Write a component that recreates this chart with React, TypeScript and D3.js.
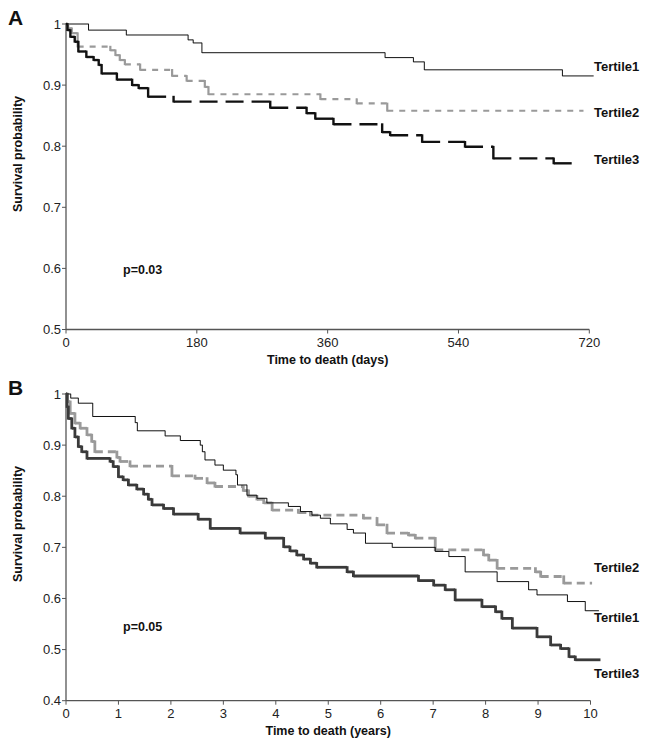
import React from "react";
import * as d3 from "d3";

// ---------- Panel A (days) ----------
const A_TICKS_X = [0, 180, 360, 540, 720];
const A_TICKS_Y = [0.5, 0.6, 0.7, 0.8, 0.9, 1];
const A_T1_TIME = [31, 83, 168, 175, 187, 439, 478, 493, 683];
const A_T1_SURV = [0.99, 0.982, 0.974, 0.969, 0.953, 0.945, 0.938, 0.925, 0.915];
const A_T1_END = 726;
const A_T2_TIME = [3, 8, 16, 61, 68, 74, 81, 102, 146, 166, 191, 196, 350, 400, 442];
const A_T2_SURV = [0.993, 0.985, 0.963, 0.957, 0.949, 0.941, 0.934, 0.925, 0.915, 0.907, 0.897, 0.885, 0.877, 0.87, 0.858];
const A_T2_END = 712;
const A_T3_TIME = [2, 6, 12, 17, 28, 38, 45, 49, 70, 91, 100, 113, 148, 281, 331, 343, 368, 435, 446, 490, 549, 588, 671];
const A_T3_SURV = [0.99, 0.979, 0.971, 0.955, 0.946, 0.941, 0.933, 0.919, 0.909, 0.9, 0.895, 0.881, 0.873, 0.863, 0.854, 0.845, 0.836, 0.823, 0.818, 0.807, 0.799, 0.78, 0.772];
const A_T3_END = 705;

// ---------- Panel B (years) ----------
const B_TICKS_X = [0, 1, 2, 3, 4, 5, 6, 7, 8, 9, 10];
const B_TICKS_Y = [0.4, 0.5, 0.6, 0.7, 0.8, 0.9, 1];
const B_T1_TIME = [0.09, 0.235, 0.51, 1.32, 1.36, 1.89, 2.18, 2.56, 2.6, 2.65, 2.84, 3.0, 3.24, 3.27, 3.45, 3.64, 3.83, 4.24, 4.47, 4.69, 4.85, 5.04, 5.36, 5.48, 5.71, 6.22, 7.04, 7.3, 7.61, 8.22, 8.82, 8.98, 9.56, 9.9];
const B_T1_SURV = [0.992, 0.982, 0.956, 0.944, 0.928, 0.918, 0.909, 0.9, 0.887, 0.871, 0.861, 0.851, 0.842, 0.822, 0.802, 0.796, 0.787, 0.78, 0.77, 0.763, 0.757, 0.746, 0.735, 0.728, 0.708, 0.7, 0.692, 0.682, 0.652, 0.633, 0.617, 0.607, 0.594, 0.576];
const B_T1_END = 10.16;
const B_T2_TIME = [0.03, 0.08, 0.17, 0.27, 0.4, 0.49, 0.55, 0.97, 1.03, 1.22, 2.02, 2.46, 2.69, 2.84, 3.38, 3.48, 3.64, 3.77, 3.93, 4.43, 4.66, 5.67, 5.93, 6.12, 6.53, 6.66, 7.04, 7.96, 8.06, 8.22, 8.95, 9.05, 9.49];
const B_T2_SURV = [0.985, 0.962, 0.943, 0.933, 0.92, 0.907, 0.887, 0.876, 0.868, 0.859, 0.84, 0.835, 0.826, 0.819, 0.811, 0.8, 0.794, 0.787, 0.773, 0.768, 0.763, 0.757, 0.744, 0.728, 0.724, 0.718, 0.695, 0.685, 0.675, 0.659, 0.652, 0.643, 0.63];
const B_T2_END = 10.03;
const B_T3_TIME = [0.02, 0.044, 0.11, 0.17, 0.235, 0.3, 0.4, 0.84, 0.9, 1.0, 1.09, 1.19, 1.35, 1.48, 1.57, 1.64, 1.86, 2.05, 2.52, 2.75, 3.32, 3.8, 4.15, 4.27, 4.4, 4.53, 4.66, 4.78, 5.36, 5.48, 6.72, 7.01, 7.23, 7.42, 7.93, 8.19, 8.31, 8.51, 8.98, 9.24, 9.43, 9.59, 9.71];
const B_T3_SURV = [0.975, 0.952, 0.933, 0.916, 0.897, 0.887, 0.874, 0.868, 0.858, 0.838, 0.832, 0.822, 0.814, 0.804, 0.794, 0.783, 0.776, 0.765, 0.755, 0.737, 0.728, 0.718, 0.701, 0.693, 0.685, 0.677, 0.669, 0.661, 0.652, 0.644, 0.635, 0.626, 0.617, 0.597, 0.584, 0.574, 0.561, 0.542, 0.525, 0.509, 0.502, 0.486, 0.48];
const B_T3_END = 10.19;

const FONT = "'Liberation Sans', Arial, Helvetica, sans-serif";

type Series = {
  time: number[];
  surv: number[];
  end: number;
  color: string;
  width: number;
  dash: string | null;
  label: string;
  labelY: number;
};

type PanelProps = {
  letter: string;
  top: number;
  bottom: number;
  left: number;
  right: number;
  xDomain: [number, number];
  yDomain: [number, number];
  xTicks: number[];
  yTicks: number[];
  xTitle: string;
  yTitleCenter: number;
  pText: string;
  pY: number;
  series: Series[];
};

function StepCurve({ s, x, y }: { s: Series; x: any; y: any }) {
  const horiz: { x1: number; x2: number; y: number }[] = [];
  const vert: { x: number; y1: number; y2: number }[] = [];
  let prevT = 0;
  let prevV = 1;
  s.time.forEach((t, i) => {
    horiz.push({ x1: x(prevT), x2: x(t), y: y(prevV) });
    vert.push({ x: x(t), y1: y(prevV), y2: y(s.surv[i]) });
    prevT = t;
    prevV = s.surv[i];
  });
  horiz.push({ x1: x(prevT), x2: x(s.end), y: y(prevV) });
  return (
    <g stroke={s.color} strokeWidth={s.width} fill="none">
      {horiz.map((h, i) => (
        <line key={"h" + i} x1={h.x1} x2={h.x2} y1={h.y} y2={h.y} strokeDasharray={s.dash || undefined} />
      ))}
      {vert.map((v, i) => (
        <line key={"v" + i} x1={v.x} x2={v.x} y1={v.y1 - s.width / 2 + 0.3} y2={v.y2 + s.width / 2 - 0.3} />
      ))}
    </g>
  );
}

function Panel(p: PanelProps) {
  const x = d3.scaleLinear().domain(p.xDomain).range([p.left, p.right]);
  const y = d3.scaleLinear().domain(p.yDomain).range([p.bottom, p.top]);
  const axisColor = "#555";
  return (
    <g>
      <text x={8} y={p.top + 1} fontFamily={FONT} fontWeight="bold" fontSize={21} fill="#111">
        {p.letter}
      </text>
      {/* y axis */}
      <line x1={p.left} x2={p.left} y1={p.top - 1} y2={p.bottom} stroke={axisColor} strokeWidth={1.3} />
      {p.yTicks.map((t) => (
        <g key={"yt" + t}>
          <line x1={p.left - 4} x2={p.left} y1={y(t)} y2={y(t)} stroke={axisColor} strokeWidth={1} />
          <text x={p.left - 5} y={y(t)} dy="0.35em" textAnchor="end" fontFamily={FONT} fontSize={13} fill="#222">
            {t === 1 ? "1" : d3.format(".1f")(t)}
          </text>
        </g>
      ))}
      {/* x axis */}
      <line x1={p.left} x2={p.right} y1={p.bottom} y2={p.bottom} stroke={axisColor} strokeWidth={1.3} />
      {p.xTicks.map((t) => (
        <g key={"xt" + t}>
          <line x1={x(t)} x2={x(t)} y1={p.bottom} y2={p.bottom + 4} stroke={axisColor} strokeWidth={1} />
          <text x={x(t)} y={p.bottom + 13} dy="0.35em" textAnchor="middle" fontFamily={FONT} fontSize={13} fill="#222">
            {t}
          </text>
        </g>
      ))}
      <text x={(p.left + p.right) / 2} y={p.bottom + 30} dy="0.35em" textAnchor="middle" fontFamily={FONT} fontWeight="bold" fontSize={12.5} fill="#111">
        {p.xTitle}
      </text>
      <text
        transform={`translate(18,${p.yTitleCenter}) rotate(-90)`}
        dy="0.35em"
        textAnchor="middle"
        fontFamily={FONT}
        fontWeight="bold"
        fontSize={12.5}
        fill="#111"
      >
        Survival probability
      </text>
      <text x={123} y={p.pY} dy="0.35em" fontFamily={FONT} fontWeight="bold" fontSize={12.5} fill="#111">
        {p.pText}
      </text>
      {p.series.map((s) => (
        <StepCurve key={s.label} s={s} x={x} y={y} />
      ))}
      {p.series.map((s) => (
        <text key={"l" + s.label} x={594} y={s.labelY} dy="0.35em" fontFamily={FONT} fontWeight="bold" fontSize={13} fill="#111">
          {s.label}
        </text>
      ))}
    </g>
  );
}

export default function App() {
  const seriesA: Series[] = [
    { time: A_T1_TIME, surv: A_T1_SURV, end: A_T1_END, color: "#111", width: 1, dash: null, label: "Tertile1", labelY: 66 },
    { time: A_T2_TIME, surv: A_T2_SURV, end: A_T2_END, color: "#9a9a9a", width: 2.2, dash: "6,6", label: "Tertile2", labelY: 112 },
    { time: A_T3_TIME, surv: A_T3_SURV, end: A_T3_END, color: "#111", width: 2.4, dash: "18,8", label: "Tertile3", labelY: 159 },
  ];
  const seriesB: Series[] = [
    { time: B_T2_TIME, surv: B_T2_SURV, end: B_T2_END, color: "#9a9a9a", width: 2.8, dash: "8,5", label: "Tertile2", labelY: 567 },
    { time: B_T1_TIME, surv: B_T1_SURV, end: B_T1_END, color: "#111", width: 1, dash: null, label: "Tertile1", labelY: 617 },
    { time: B_T3_TIME, surv: B_T3_SURV, end: B_T3_END, color: "#3a3a3a", width: 2.8, dash: null, label: "Tertile3", labelY: 673 },
  ];
  return (
    <svg
      width={649}
      height={748}
      viewBox="0 0 649 748"
      style={{ position: "absolute", left: 0, top: 0, background: "#fff" }}
    >
      <rect x={0} y={0} width={649} height={748} fill="#fff" />
      <Panel
        letter="A"
        top={24}
        bottom={329.5}
        left={66}
        right={589.3}
        xDomain={[0, 720]}
        yDomain={[0.5, 1]}
        xTicks={A_TICKS_X}
        yTicks={A_TICKS_Y}
        xTitle="Time to death (days)"
        yTitleCenter={154}
        pText="p=0.03"
        pY={270}
        series={seriesA}
      />
      <Panel
        letter="B"
        top={394}
        bottom={700.7}
        left={66}
        right={590.5}
        xDomain={[0, 10]}
        yDomain={[0.4, 1]}
        xTicks={B_TICKS_X}
        yTicks={B_TICKS_Y}
        xTitle="Time to death (years)"
        yTitleCenter={524}
        pText="p=0.05"
        pY={627}
        series={seriesB}
      />
    </svg>
  );
}
